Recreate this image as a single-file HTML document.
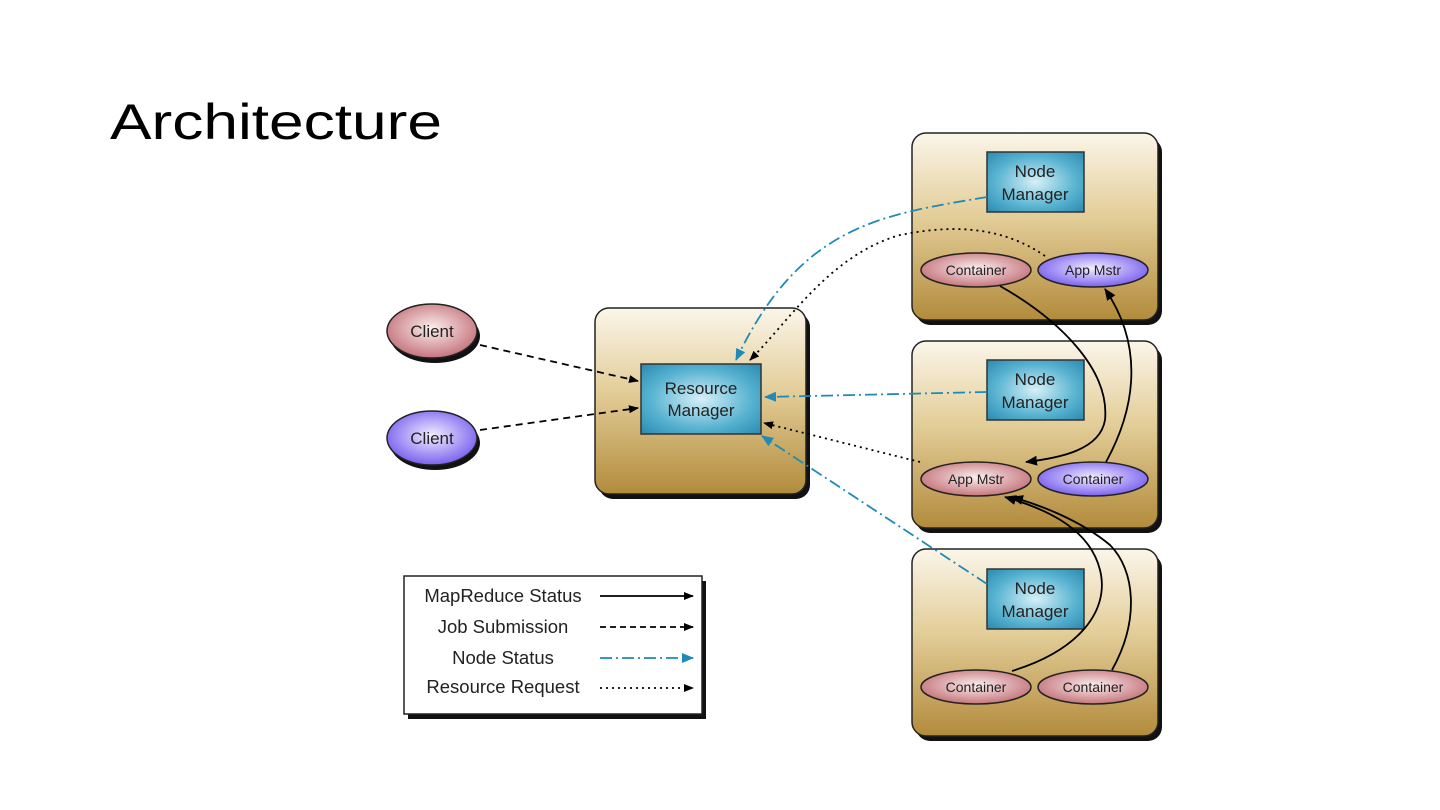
<!DOCTYPE html>
<html><head><meta charset="utf-8"><style>
html,body{margin:0;padding:0;background:#fff;}
svg{display:block;font-family:"Liberation Sans",sans-serif;}
</style></head><body>
<svg width="1440" height="810" viewBox="0 0 1440 810" xmlns="http://www.w3.org/2000/svg">
<defs>
<linearGradient id="tan" x1="0" y1="0" x2="0" y2="1">
<stop offset="0" stop-color="#fbf6ea"/><stop offset="0.45" stop-color="#e3cd98"/><stop offset="1" stop-color="#b28b3c"/>
</linearGradient>
<radialGradient id="blueBox" cx="0.5" cy="0.5" r="0.7">
<stop offset="0" stop-color="#d6f0f8"/><stop offset="0.6" stop-color="#58b3d1"/><stop offset="1" stop-color="#2a8ab0"/>
</radialGradient>
<radialGradient id="red" cx="0.5" cy="0.45" r="0.6">
<stop offset="0" stop-color="#fbeeee"/><stop offset="1" stop-color="#c06a72"/>
</radialGradient>
<radialGradient id="purp" cx="0.5" cy="0.45" r="0.6">
<stop offset="0" stop-color="#f2eefe"/><stop offset="1" stop-color="#7055ee"/>
</radialGradient>
<marker id="ak" markerWidth="10" markerHeight="8" refX="9" refY="4" orient="auto" markerUnits="userSpaceOnUse"><path d="M0,0 L10,4 L0,8 z" fill="#000"/></marker>
<marker id="ab" markerWidth="12" markerHeight="10" refX="11" refY="5" orient="auto" markerUnits="userSpaceOnUse"><path d="M0,0 L12,5 L0,10 z" fill="#1e8ab5"/></marker>
<marker id="ak2" markerWidth="12" markerHeight="10" refX="11" refY="5" orient="auto" markerUnits="userSpaceOnUse"><path d="M0,0 L12,5 L0,10 z" fill="#000"/></marker>
</defs>

<text x="110" y="139" font-family="Liberation Sans, sans-serif" font-size="50" fill="#000" textLength="332" lengthAdjust="spacingAndGlyphs">Architecture</text>

<!-- RM box -->
<rect x="599" y="313" width="211" height="186" rx="14" fill="#111"/>
<rect x="595" y="308" width="211" height="186" rx="14" fill="url(#tan)" stroke="#222" stroke-width="1.5"/>
<rect x="641" y="364" width="120" height="70" fill="url(#blueBox)" stroke="#333" stroke-width="1.5"/>
<text x="701" y="394" font-size="17" text-anchor="middle" fill="#222">Resource</text>
<text x="701" y="416" font-size="17" text-anchor="middle" fill="#222">Manager</text>

<!-- Clients -->
<ellipse cx="435" cy="336" rx="45" ry="27" fill="#111"/>
<ellipse cx="432" cy="331" rx="45" ry="27" fill="url(#red)" stroke="#222" stroke-width="1.5"/>
<text x="432" y="337" font-size="17" text-anchor="middle" fill="#222">Client</text>
<ellipse cx="435" cy="443" rx="45" ry="27" fill="#111"/>
<ellipse cx="432" cy="438" rx="45" ry="27" fill="url(#purp)" stroke="#222" stroke-width="1.5"/>
<text x="432" y="444" font-size="17" text-anchor="middle" fill="#222">Client</text>

<!-- Node boxes -->
<g>
<rect x="916" y="138" width="246" height="187" rx="14" fill="#111"/>
<rect x="912" y="133" width="246" height="187" rx="14" fill="url(#tan)" stroke="#222" stroke-width="1.5"/>
<rect x="916" y="346" width="246" height="187" rx="14" fill="#111"/>
<rect x="912" y="341" width="246" height="187" rx="14" fill="url(#tan)" stroke="#222" stroke-width="1.5"/>
<rect x="916" y="554" width="246" height="187" rx="14" fill="#111"/>
<rect x="912" y="549" width="246" height="187" rx="14" fill="url(#tan)" stroke="#222" stroke-width="1.5"/>
</g>
<g font-size="17" text-anchor="middle" fill="#222">
<rect x="987" y="152" width="97" height="60" fill="url(#blueBox)" stroke="#333" stroke-width="1.5"/>
<text x="1035" y="177">Node</text><text x="1035" y="200">Manager</text>
<rect x="987" y="360" width="97" height="60" fill="url(#blueBox)" stroke="#333" stroke-width="1.5"/>
<text x="1035" y="385">Node</text><text x="1035" y="408">Manager</text>
<rect x="987" y="569" width="97" height="60" fill="url(#blueBox)" stroke="#333" stroke-width="1.5"/>
<text x="1035" y="594">Node</text><text x="1035" y="617">Manager</text>
</g>
<g font-size="14" text-anchor="middle" fill="#222" stroke-width="1.5">
<ellipse cx="976" cy="270" rx="55" ry="17" fill="url(#red)" stroke="#222"/><text x="976" y="275">Container</text>
<ellipse cx="1093" cy="270" rx="55" ry="17" fill="url(#purp)" stroke="#222"/><text x="1093" y="275">App Mstr</text>
<ellipse cx="976" cy="479" rx="55" ry="17" fill="url(#red)" stroke="#222"/><text x="976" y="484">App Mstr</text>
<ellipse cx="1093" cy="479" rx="55" ry="17" fill="url(#purp)" stroke="#222"/><text x="1093" y="484">Container</text>
<ellipse cx="976" cy="687" rx="55" ry="17" fill="url(#red)" stroke="#222"/><text x="976" y="692">Container</text>
<ellipse cx="1093" cy="687" rx="55" ry="17" fill="url(#red)" stroke="#222"/><text x="1093" y="692">Container</text>
</g>

<!-- connectors -->
<g fill="none" stroke-width="1.8">
<path d="M480,345 L638,381" stroke="#000" stroke-dasharray="7,5" marker-end="url(#ak)"/>
<path d="M480,430 L638,408" stroke="#000" stroke-dasharray="7,5" marker-end="url(#ak)"/>
<path d="M987,197 C880,215 800,225 736,360" stroke="#1e8ab5" stroke-dasharray="12,4,2,4" marker-end="url(#ab)"/>
<path d="M1045,256 C1000,225 950,225 900,235 C830,255 790,320 750,360" stroke="#000" stroke-dasharray="2,4" marker-end="url(#ak)"/>
<path d="M987,392 L765,397" stroke="#1e8ab5" stroke-dasharray="12,4,2,4" marker-end="url(#ab)"/>
<path d="M920,462 L764,423" stroke="#000" stroke-dasharray="2,4" marker-end="url(#ak)"/>
<path d="M987,584 L762,436" stroke="#1e8ab5" stroke-dasharray="12,4,2,4" marker-end="url(#ab)"/>
<path d="M1000,286 C1060,320 1110,370 1105,420 C1100,450 1060,458 1026,462" stroke="#000" marker-end="url(#ak2)"/>
<path d="M1106,462 C1140,400 1140,340 1105,289" stroke="#000" marker-end="url(#ak2)"/>
<path d="M1012,671 C1080,650 1110,610 1100,570 C1090,530 1050,510 1005,497" stroke="#000" marker-end="url(#ak2)"/>
<path d="M1112,670 C1140,620 1135,570 1110,545 C1080,520 1040,505 1012,497" stroke="#000" marker-end="url(#ak2)"/>
</g>

<!-- legend -->
<rect x="408" y="581" width="298" height="138" fill="#111"/>
<rect x="404" y="576" width="298" height="138" fill="#fff" stroke="#222" stroke-width="1.5"/>
<g font-size="18.5" fill="#222" text-anchor="middle">
<text x="503" y="602">MapReduce Status</text>
<text x="503" y="633">Job Submission</text>
<text x="503" y="664">Node Status</text>
<text x="503" y="693">Resource Request</text>
</g>
<g fill="none" stroke-width="1.8">
<path d="M600,596 L693,596" stroke="#000" marker-end="url(#ak)"/>
<path d="M600,627 L693,627" stroke="#000" stroke-dasharray="6,4" marker-end="url(#ak)"/>
<path d="M600,658 L693,658" stroke="#1e8ab5" stroke-dasharray="12,4,2,4" marker-end="url(#ab)"/>
<path d="M600,688 L693,688" stroke="#000" stroke-dasharray="2,4" marker-end="url(#ak)"/>
</g>
</svg>
</body></html>
